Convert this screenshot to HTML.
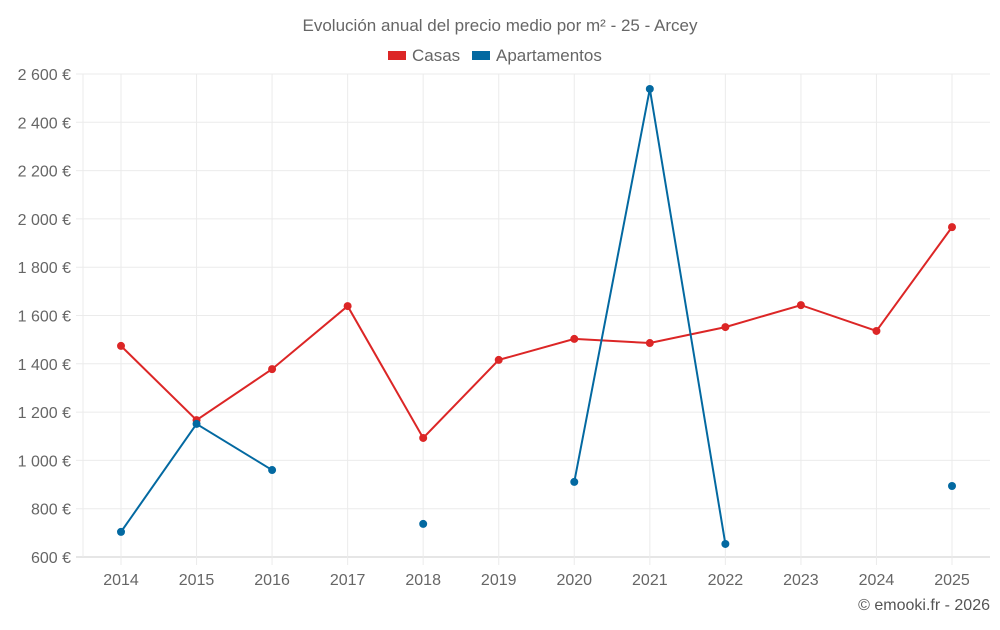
<!DOCTYPE html>
<html><head><meta charset="utf-8"><style>
body{margin:0;background:#fff;font-family:"Liberation Sans",sans-serif;}
svg text{font-family:"Liberation Sans",sans-serif;}
</style></head><body>
<svg id="c" width="1000" height="625"></svg>
<script>
const years=["2014","2015","2016","2017","2018","2019","2020","2021","2022","2023","2024","2025"];
const casas=[1474,1167,1378,1639,1093,1416,1503,1486,1552,1643,1536,1966];
const apartamentos=[704,1151,960,null,737,null,911,2538,654,null,null,894];
const yTicks=[600,800,1000,1200,1400,1600,1800,2000,2200,2400,2600];
const yLabels=["600 €","800 €","1 000 €","1 200 €","1 400 €","1 600 €","1 800 €","2 000 €","2 200 €","2 400 €","2 600 €"];
const svg=document.getElementById('c');const NS="http://www.w3.org/2000/svg";
const L=83,R=990,T=74,B=557;
const y=v=>B-(v-600)/2000*(B-T);
const x=i=>121+i*(952-121)/11;
function mk(t,a,p){const e=document.createElementNS(NS,t);for(const k in a)e.setAttribute(k,a[k]);(p||svg).appendChild(e);return e;}
function tx(s,a,name){const e=mk('text',a);e.textContent=s;return e;}
yTicks.forEach((v,i)=>{const g=mk('line',{x1:76,x2:R,y1:y(v),y2:y(v),stroke:i==0?'#ccc':'#ebebeb','stroke-width':1});

tx(yLabels[i],{x:71,y:y(v)+6,'text-anchor':'end','font-size':16,fill:'#666'},'y-tick-label');});
mk('line',{x1:L,x2:L,y1:T,y2:B,stroke:'#ebebeb'});
years.forEach((s,i)=>{const g=mk('line',{x1:x(i),x2:x(i),y1:T,y2:B+8,stroke:'#ebebeb'});

tx(s,{x:x(i),y:585,'text-anchor':'middle','font-size':16,fill:'#666'},'x-tick-label');});
function series(data,col,name){let d='',pen=false;
data.forEach((v,i)=>{if(v==null){pen=false;return;}d+=(pen?'L':'M')+x(i)+' '+y(v)+' ';pen=true;});
const p=mk('path',{d:d,fill:'none',stroke:col,'stroke-width':2});
data.forEach((v,i)=>{if(v==null)return;const c=mk('circle',{cx:x(i),cy:y(v),r:4,fill:col});
});}
series(casas,'#dc2626','casas');
series(apartamentos,'#0369a1','apartamentos');
tx('Evolución anual del precio medio por m² - 25 - Arcey',{x:500,y:31,'text-anchor':'middle','font-size':17,fill:'#666'},'chart-title');
const lg=mk('rect',{x:388,y:51,width:18,height:9,fill:'#dc2626'});
tx('Casas',{x:412,y:61,'font-size':17,fill:'#666'},'legend-casas');
const lg2=mk('rect',{x:472,y:51,width:18,height:9,fill:'#0369a1'});
tx('Apartamentos',{x:496,y:61,'font-size':17,fill:'#666'},'legend-apartamentos');
tx('© emooki.fr - 2026',{x:990,y:610,'text-anchor':'end','font-size':16,fill:'#555'},'credits');
</script></body></html>
